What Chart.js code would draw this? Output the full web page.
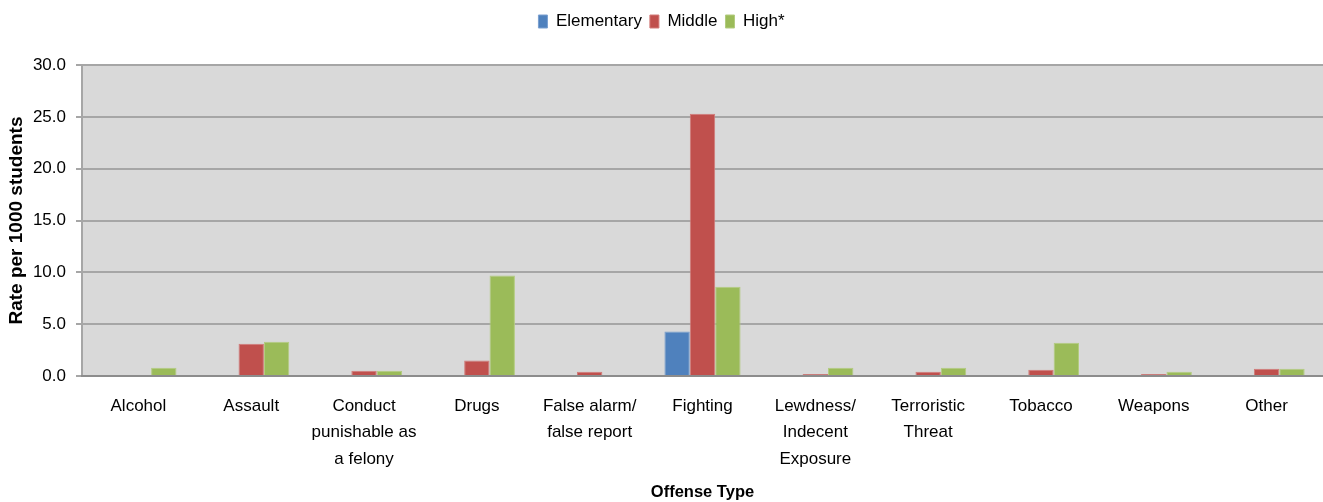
<!DOCTYPE html>
<html>
<head>
<meta charset="utf-8">
<script src="https://cdn.jsdelivr.net/npm/chart.js@4.4.0/dist/chart.umd.min.js"></script>
<style>
    html, body { margin: 0; padding: 0; background: #ffffff; }
    #wrap { width: 1323px; height: 502px; }
</style>
</head>
<body>
<div id="wrap"><canvas id="chart_offense" width="1323" height="502"></canvas></div>
<script>
const categories = [
    'Alcohol',
    'Assault',
    ['Conduct', 'punishable as', 'a felony'],
    'Drugs',
    ['False alarm/', 'false report'],
    'Fighting',
    ['Lewdness/', 'Indecent', 'Exposure'],
    ['Terroristic', 'Threat'],
    'Tobacco',
    'Weapons',
    'Other'
];
const elementary = [0.0, 0.1, 0.0, 0.0, 0.0, 4.3, 0.0, 0.0, 0.0, 0.0, 0.0];
const middle     = [0.1, 3.1, 0.5, 1.5, 0.4, 25.3, 0.2, 0.4, 0.6, 0.2, 0.7];
const high       = [0.8, 3.3, 0.5, 9.7, 0.0, 8.6, 0.8, 0.8, 3.2, 0.4, 0.7];

const font_family = '"Liberation Sans Narrow", "Arial Narrow", "Liberation Sans", sans-serif';

// プロット領域の背景色
function drawBackground(chart) {
    const ctx = chart.ctx;
    const area = chart.chartArea;
    ctx.save();
    ctx.fillStyle = '#d9d9d9';
    ctx.fillRect(area.left, area.top, area.right - area.left, area.bottom - area.top);
    ctx.restore();
}

// 凡例の下に余白を作る
const legendGap = {
    id: 'legendGap',
    beforeInit: function (chart) {
        const origFit = chart.legend.fit;
        chart.legend.fit = function () {
            origFit.bind(chart.legend)();
            this.height += 25;
        };
    }
};

function makeDataset(label, data, color, border) {
    return {
        label: label,
        data: data,
        backgroundColor: color,
        borderColor: border,
        borderWidth: 1,
        categoryPercentage: 0.675,
        barPercentage: 1.0
    };
}

new Chart(document.getElementById('chart_offense'), {
    type: 'bar',
    data: {
        labels: categories,
        datasets: [
            makeDataset('Elementary', elementary, '#4f81bd', '#7a9fd0'),
            makeDataset('Middle', middle, '#c0504d', '#d27a78'),
            makeDataset('High*', high, '#9bbb59', '#b3cc80')
        ]
    },
    options: {
        responsive: false,
        animation: false,
        layout: {
            padding: { left: 0, right: 0, top: 5, bottom: 0 }
        },
        scales: {
            y: {
                min: 0,
                max: 30,
                ticks: {
                    stepSize: 5,
                    color: '#000000',
                    font: { family: font_family, size: 17 },
                    padding: 10,
                    callback: function (value) { return value.toFixed(1); }
                },
                grid: {
                    color: '#a6a6a6',
                    lineWidth: 2,
                    tickLength: 6,
                    tickColor: '#a6a6a6'
                },
                border: { color: '#a6a6a6', width: 2 },
                title: {
                    display: true,
                    text: 'Rate per 1000 students',
                    color: '#000000',
                    font: { family: font_family, size: 19, weight: 'bold' },
                    padding: { top: 5, bottom: 0 }
                },
                afterFit: function (scale) { scale.width = 82; }
            },
            x: {
                ticks: {
                    color: '#000000',
                    font: { family: font_family, size: 17, lineHeight: 1.55 },
                    padding: 9,
                    maxRotation: 0,
                    autoSkip: false
                },
                grid: { display: false },
                border: { color: '#8c8c8c', width: 2 },
                title: {
                    display: true,
                    text: 'Offense Type',
                    color: '#000000',
                    font: { family: font_family, size: 16.5, weight: 'bold' },
                    padding: { top: 0, bottom: 0 }
                },
                afterFit: function (scale) { scale.height = 126; }
            }
        },
        plugins: {
            legend: {
                position: 'top',
                labels: {
                    color: '#000000',
                    font: { family: font_family, size: 17 },
                    boxWidth: 9,
                    boxHeight: 13,
                    padding: 8
                }
            },
            tooltip: { enabled: false }
        }
    },
    plugins: [
        { beforeDraw: drawBackground },
        legendGap
    ]
});
</script>
</body>
</html>
